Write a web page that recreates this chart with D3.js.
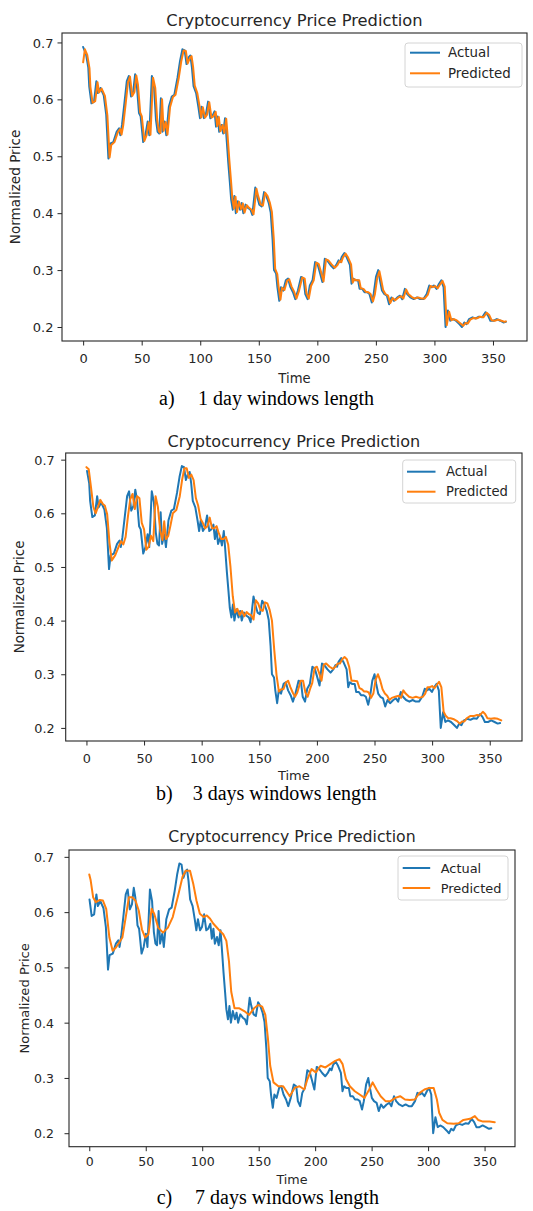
<!DOCTYPE html>
<html>
<head>
<meta charset="utf-8">
<script src="https://cdn.jsdelivr.net/npm/d3@7"></script>
<style>
  body { margin: 0; background: #fff; }
  svg { display: block; }
</style>
</head>
<body>
<svg id="fig" width="533" height="1211"></svg>
<script>
// ---- data -------------------------------------------------------------
// Normalized closing price over the test period, [day, price]
const actualPrice = [
  [0,0.692],[2.5,0.679],[4.4,0.656],[5.2,0.623],[7.1,0.593],[9.3,0.596],[11.3,0.632],[12.6,0.611],[14.8,0.62],[17.6,0.607],
  [19.7,0.573],[21.6,0.496],[23,0.522],[25.8,0.525],[28.6,0.543],[30.7,0.549],[31.8,0.537],[33.2,0.555],[35.4,0.596],[37.3,0.632],
  [39,0.641],[40.9,0.605],[42.8,0.614],[44.4,0.644],[45.8,0.626],[47.7,0.576],[49.1,0.57],[51.3,0.525],[53.2,0.537],[55.1,0.561],
  [56.5,0.537],[58.7,0.641],[60.6,0.62],[62.2,0.564],[63.6,0.543],[65,0.54],[66.4,0.602],[67.7,0.543],[69.6,0.561],[71,0.537],
  [73.2,0.587],[75.7,0.605],[77.9,0.608],[80.6,0.638],[82.8,0.668],[84.8,0.688],[86.7,0.686],[88.3,0.662],[90.2,0.674],[91.6,0.677],
  [92.9,0.656],[94.3,0.623],[96.5,0.611],[98.4,0.587],[99.8,0.567],[101.2,0.587],[103.1,0.567],[104.8,0.573],[106.7,0.596],[108.6,0.567],
  [110.3,0.57],[112.2,0.579],[113.5,0.552],[114.9,0.57],[116.2,0.543],[118.1,0.555],[119.6,0.54],[121.2,0.567],[122.3,0.537],[123.9,0.49],
  [125.3,0.454],[126.4,0.424],[127.8,0.406],[129.1,0.43],[130.4,0.4],[132.1,0.421],[134,0.406],[135.4,0.418],[136.8,0.4],[138.7,0.415],
  [140.9,0.409],[142.9,0.406],[144.5,0.397],[147,0.445],[148.5,0.43],[150.5,0.415],[152.5,0.412],[154.5,0.437],[156.5,0.43],[158.5,0.418],
  [160.2,0.401],[161.8,0.353],[163,0.3],[164.8,0.294],[165.9,0.27],[167.5,0.246],[168.9,0.27],[170.9,0.264],[173.1,0.282],[175,0.285],
  [177,0.27],[179.2,0.261],[181.2,0.249],[183.4,0.264],[186.1,0.288],[188.2,0.285],[189.7,0.258],[191.7,0.249],[193.6,0.273],[195.9,0.282],
  [198.1,0.314],[200.1,0.311],[202,0.297],[204.3,0.279],[206.4,0.32],[208.4,0.317],[211.2,0.309],[213.9,0.303],[216.2,0.309],[218.1,0.317],
  [219.5,0.314],[220.8,0.323],[223.1,0.33],[225,0.323],[227.8,0.309],[229.2,0.276],[230.6,0.285],[232.5,0.282],[234.8,0.282],[236.1,0.267],
  [238.4,0.267],[240.3,0.261],[242.6,0.261],[244.5,0.258],[246.5,0.243],[248.1,0.258],[250.1,0.288],[252,0.3],[253.5,0.282],[255.2,0.264],
  [257.1,0.258],[259.4,0.255],[261.3,0.24],[263.3,0.252],[265.5,0.246],[268.3,0.252],[270.6,0.255],[272.5,0.249],[274.8,0.267],[276.7,0.258],
  [279.4,0.252],[282.3,0.249],[285.1,0.252],[287.8,0.249],[290.6,0.249],[293.4,0.258],[295.6,0.273],[297.6,0.27],[299.5,0.273],[301.8,0.267],
  [303.9,0.276],[305.9,0.282],[307.8,0.27],[309.5,0.2],[311.5,0.229],[313.5,0.211],[315.7,0.214],[318.4,0.211],[321.3,0.205],[323.5,0.2],
  [325.5,0.208],[327.4,0.205],[329.6,0.214],[332.5,0.217],[335.2,0.215],[338,0.218],[340.8,0.217],[343.6,0.226],[345.8,0.22],[347.8,0.211],
  [350.5,0.211],[353.3,0.214],[356.2,0.211],[358.9,0.208],[361,0.209]
];

// Model output with a 1-day input window
const predicted1Day = [
  [0,0.665],[1.5,0.688],[3.5,0.678],[5.4,0.655],[6.2,0.622],[8.1,0.594],[10.3,0.597],[12.3,0.63],[13.6,0.612],[15.8,0.619],
  [18.6,0.606],[20.7,0.572],[22.6,0.498],[24,0.52],[26.8,0.525],[29.6,0.542],[31.7,0.548],[32.8,0.538],[34.2,0.554],[36.4,0.594],
  [38.3,0.63],[40,0.64],[41.9,0.606],[43.8,0.613],[45.4,0.642],[46.8,0.626],[48.7,0.577],[50.1,0.57],[52.3,0.527],[54.2,0.537],
  [56.1,0.56],[57.5,0.538],[59.7,0.638],[61.6,0.62],[63.2,0.565],[64.6,0.544],[66,0.541],[67.4,0.6],[68.7,0.545],[70.6,0.56],
  [72,0.538],[74.2,0.586],[76.7,0.604],[78.9,0.608],[81.6,0.637],[83.8,0.667],[85.8,0.686],[87.7,0.685],[89.3,0.663],[91.2,0.673],
  [92.6,0.676],[93.9,0.657],[95.3,0.624],[97.5,0.611],[99.4,0.588],[100.8,0.568],[102.2,0.586],[104.1,0.568],[105.8,0.573],[107.7,0.595],
  [109.6,0.568],[111.3,0.57],[113.2,0.578],[114.5,0.553],[115.9,0.569],[117.2,0.544],[119.1,0.555],[120.6,0.541],[122.2,0.566],[123.3,0.538],
  [124.9,0.492],[126.3,0.456],[127.4,0.426],[128.8,0.408],[130.1,0.429],[131.4,0.402],[133.1,0.42],[135,0.407],[136.4,0.417],[137.8,0.401],
  [139.7,0.414],[141.9,0.409],[143.9,0.406],[145.5,0.398],[148,0.443],[149.5,0.43],[151.5,0.416],[153.5,0.413],[155.5,0.436],[157.5,0.43],
  [159.5,0.418],[161.2,0.402],[162.8,0.355],[164,0.302],[165.8,0.293],[166.9,0.271],[168.5,0.248],[169.9,0.269],[171.9,0.265],[174.1,0.281],
  [176,0.284],[178,0.271],[180.2,0.262],[182.2,0.25],[184.4,0.264],[187.1,0.287],[189.2,0.285],[190.7,0.259],[192.7,0.25],[194.6,0.272],
  [196.9,0.282],[199.1,0.313],[201.1,0.311],[203,0.298],[205.3,0.28],[207.4,0.319],[209.4,0.317],[212.2,0.31],[214.9,0.304],[217.2,0.309],
  [219.1,0.316],[220.5,0.314],[221.8,0.322],[224.1,0.329],[226,0.323],[228.8,0.31],[230.2,0.278],[231.6,0.284],[233.5,0.282],[235.8,0.282],
  [237.1,0.268],[239.4,0.267],[241.3,0.262],[243.6,0.261],[245.5,0.258],[247.5,0.245],[249.1,0.257],[251.1,0.286],[253,0.298],[254.5,0.283],
  [256.2,0.265],[258.1,0.258],[260.4,0.255],[262.3,0.242],[264.3,0.251],[266.5,0.247],[269.3,0.252],[271.6,0.254],[273.5,0.25],[275.8,0.266],
  [277.7,0.258],[280.4,0.253],[283.3,0.25],[286.1,0.252],[288.8,0.25],[291.6,0.25],[294.4,0.257],[296.6,0.272],[298.6,0.27],[300.5,0.272],
  [302.8,0.268],[304.9,0.275],[306.9,0.281],[308.8,0.271],[310.5,0.203],[312.5,0.227],[314.5,0.212],[316.7,0.214],[319.4,0.211],[322.3,0.206],
  [324.5,0.202],[326.5,0.207],[328.4,0.206],[330.6,0.213],[333.5,0.216],[336.2,0.215],[339,0.218],[341.8,0.217],[344.6,0.225],[346.8,0.221],
  [348.8,0.212],[351.5,0.211],[354.3,0.213],[357.2,0.211],[359.9,0.209],[361,0.21]
];

// Model output with a 3-day input window
const predicted3Day = [
  [0,0.686],[2,0.682],[4,0.648],[6,0.612],[8,0.6],[10,0.612],[12,0.625],[14,0.618],[16,0.614],[18,0.598],
  [20,0.545],[22,0.512],[25,0.522],[28,0.538],[30,0.548],[32,0.542],[34,0.556],[36,0.594],[38,0.626],[40,0.636],
  [42,0.608],[44,0.632],[46,0.628],[48,0.582],[50,0.57],[52,0.532],[54,0.538],[56,0.558],[58,0.548],[60,0.632],
  [62,0.612],[64,0.568],[66,0.55],[67.5,0.585],[69,0.552],[71,0.558],[73,0.578],[75,0.6],[78,0.606],[81,0.632],
  [83,0.662],[85,0.684],[87,0.684],[89,0.666],[91,0.672],[93,0.662],[95,0.628],[97,0.614],[99,0.59],[101,0.582],
  [103,0.572],[105,0.576],[107,0.592],[109,0.572],[111,0.572],[113,0.576],[115,0.562],[117,0.552],[119,0.552],[121,0.556],
  [123,0.542],[125,0.5],[127,0.445],[129,0.415],[131,0.422],[133,0.41],[135,0.418],[137,0.408],[139,0.416],[141,0.412],
  [143,0.41],[145,0.402],[147,0.438],[149,0.432],[151,0.42],[153,0.418],[155,0.434],[157,0.432],[159,0.42],[161,0.4],
  [163,0.345],[165,0.298],[167,0.268],[169,0.272],[171,0.272],[173,0.284],[175,0.288],[177,0.276],[179,0.266],[181,0.258],
  [183,0.266],[186,0.288],[188,0.288],[190,0.266],[192,0.258],[194,0.272],[196,0.284],[198,0.312],[200,0.314],[202,0.302],
  [204,0.288],[206,0.318],[208,0.32],[211,0.314],[214,0.31],[216,0.314],[218,0.32],[220,0.32],[222,0.328],[224,0.332],
  [226,0.328],[228,0.314],[230,0.288],[232,0.288],[235,0.287],[237,0.274],[239,0.272],[241,0.268],[243,0.268],[245,0.266],
  [247,0.256],[249,0.264],[251,0.29],[253,0.3],[255,0.288],[257,0.272],[259,0.264],[261,0.26],[263,0.252],[265,0.256],
  [268,0.258],[271,0.26],[273,0.256],[275,0.27],[277,0.264],[280,0.258],[283,0.256],[286,0.258],[289,0.256],[292,0.258],
  [294,0.264],[296,0.276],[298,0.276],[300,0.278],[302,0.274],[304,0.28],[306,0.286],[308,0.276],[310,0.23],[312,0.222],
  [314,0.218],[316,0.218],[319,0.216],[322,0.212],[324,0.208],[326,0.212],[328,0.212],[330,0.218],[333,0.222],[336,0.222],
  [339,0.224],[341,0.223],[344,0.23],[346,0.226],[348,0.218],[351,0.217],[354,0.218],[357,0.217],[360,0.214]
];

// Model output with a 7-day input window
const predicted7Day = [
  [0,0.668],[1.2,0.658],[3.4,0.627],[5.8,0.618],[9.3,0.622],[12.1,0.621],[15,0.606],[17.8,0.554],[20.7,0.53],[23.6,0.536],
  [26.5,0.545],[29.3,0.554],[32.3,0.591],[35.1,0.627],[37.9,0.627],[40.9,0.621],[43.8,0.603],[46.6,0.569],[49.5,0.554],[52.4,0.56],
  [55.2,0.606],[57.5,0.597],[61,0.572],[65.3,0.563],[69.6,0.572],[73.9,0.591],[78.3,0.627],[82.6,0.664],[85.4,0.675],[89.2,0.675],
  [92,0.652],[94.9,0.621],[97.9,0.597],[101.3,0.591],[104.1,0.594],[107,0.588],[109.9,0.579],[114.3,0.569],[118.6,0.56],[121.4,0.548],
  [123.7,0.511],[125.7,0.456],[128.6,0.426],[132.9,0.426],[137.2,0.421],[141.5,0.414],[145.9,0.426],[149.6,0.432],[153.1,0.429],[155.9,0.414],
  [158.2,0.371],[160.2,0.322],[163.1,0.292],[167.4,0.285],[171.7,0.285],[177.5,0.267],[181.8,0.282],[186.1,0.285],[190.4,0.279],[193.2,0.298],
  [196.8,0.316],[200.6,0.31],[204.8,0.322],[209.1,0.319],[213.4,0.325],[217.8,0.331],[221.5,0.334],[224.3,0.325],[227.3,0.298],[230.7,0.285],
  [235.1,0.276],[239.4,0.27],[243.7,0.264],[247.9,0.279],[250.9,0.292],[254.3,0.279],[258,0.267],[262.3,0.258],[266.7,0.258],[271,0.264],
  [275.2,0.267],[279.5,0.261],[283.9,0.26],[288.2,0.261],[292.5,0.273],[296.8,0.279],[301.1,0.282],[304.9,0.282],[307.8,0.261],[309.8,0.237],
  [312.7,0.224],[317,0.218],[322.7,0.217],[327,0.218],[331.3,0.224],[337.2,0.226],[341.4,0.231],[344.3,0.224],[348.6,0.221],[354.4,0.221],
  [359,0.22]
];

const windowLabels = ["a)", "b)", "c)"];
const windowTexts = ["1 day windows length", "3 days windows length", "7 days windows length"];
// Longer windows start the test period a few days later
const testStartOffsets = [0, 2, 5];
const predictedSeries = [predicted1Day, predicted3Day, predicted7Day];
const xTickValues = [0, 50, 100, 150, 200, 250, 300, 350];
const yTickValues = [0.2, 0.3, 0.4, 0.5, 0.6, 0.7];
const seriesNames = ["Actual", "Predicted"];
const seriesColors = ["#1f77b4", "#ff7f0e"];
const chartTitle = "Cryptocurrency Price Prediction";
const xAxisLabel = "Time";
const yAxisLabel = "Normalized Price";

// ---- layout of the three stacked panels ------------------------------
const panels = [
  { left: 62, top: 33, right: 527, bottom: 341, fs: 1.0, titleY: 20, tickPad: 4, xTickY: 358, xLabelY: 378,
    yLabelX: 15, captionY: 405, capLabelX: 159, capTextX: 198,
    legend: { x: 405, y: 43, w: 117, h: 44, row1: 52.7, row2: 73.3, lineX: 410, lineLen: 30, textX: 448 } },
  { left: 65.7, top: 453, right: 522, bottom: 741, fs: 0.985, titleY: 441.7, tickPad: 6.5, xTickY: 758.3, xLabelY: 775,
    yLabelX: 19, captionY: 800, capLabelX: 156, capTextX: 192.7,
    legend: { x: 402.7, y: 460, w: 113, h: 43, row1: 471.7, row2: 491.7, lineX: 407, lineLen: 28.5, textX: 446 } },
  { left: 69, top: 850, right: 515, bottom: 1146.7, fs: 0.965, titleY: 836.7, tickPad: 10.5, xTickY: 1161.7, xLabelY: 1180,
    yLabelX: 24, captionY: 1204, capLabelX: 156.7, capTextX: 195,
    legend: { x: 398, y: 856, w: 110, h: 44, row1: 868, row2: 888, lineX: 402.7, lineLen: 27.5, textX: 440.7 } }
];

const svg = d3.select("#fig");
const sansFont = "'DejaVu Sans', sans-serif";
const serifFont = "'Liberation Serif', 'Times New Roman', serif";
const ink = "#262626";

panels.forEach((p, i) => {
  const offset = testStartOffsets[i];
  const actual = actualPrice
    .filter(d => d[0] >= offset)
    .map(d => [d[0] - offset, d[1]]);
  const predicted = predictedSeries[i];
  const series = [actual, predicted];

  // matplotlib-style autoscale: data extent plus 5% margin
  const allPts = actual.concat(predicted);
  const [x0, x1] = d3.extent(allPts, d => d[0]);
  const [y0, y1] = d3.extent(allPts, d => d[1]);
  const xm = (x1 - x0) * 0.05, ym = (y1 - y0) * 0.05;

  const x = d3.scaleLinear().domain([x0 - xm, x1 + xm]).range([p.left, p.right]);
  const y = d3.scaleLinear().domain([y0 - ym, y1 + ym]).range([p.bottom, p.top]);

  const g = svg.append("g");
  const clipId = "clip" + i;
  g.append("clipPath").attr("id", clipId)
    .append("rect")
    .attr("x", p.left).attr("y", p.top)
    .attr("width", p.right - p.left).attr("height", p.bottom - p.top);

  const line = d3.line().x(d => x(d[0])).y(d => y(d[1]));

  g.append("g").attr("clip-path", `url(#${clipId})`)
    .selectAll("path")
    .data(series)
    .join("path")
    .attr("d", line)
    .attr("fill", "none")
    .attr("stroke", (d, k) => seriesColors[k])
    .attr("stroke-width", 2)
    .attr("stroke-linejoin", "round")
    .attr("stroke-linecap", "round");

  // axes
  const tickFs = 13 * p.fs;
  const yAxis = d3.axisLeft(y).tickValues(yTickValues).tickFormat(d3.format(".1f"))
    .tickSize(4.5).tickPadding(p.tickPad);
  const xAxis = d3.axisBottom(x).tickValues(xTickValues).tickFormat(d3.format("d"))
    .tickSize(4.5);

  const ya = g.append("g").attr("transform", `translate(${p.left},0)`).call(yAxis);
  const xa = g.append("g").attr("transform", `translate(0,${p.bottom})`).call(xAxis);
  [ya, xa].forEach(a => {
    a.select(".domain").remove();
    a.selectAll(".tick line").attr("stroke", ink).attr("stroke-width", 1);
    a.selectAll(".tick text").attr("fill", ink).style("font-family", sansFont).style("font-size", tickFs + "px");
  });
  ya.selectAll(".tick text").attr("dy", "0.35em");
  xa.selectAll(".tick text").attr("y", p.xTickY - p.bottom).attr("dy", "0.35em");

  // frame
  g.append("rect")
    .attr("x", p.left).attr("y", p.top)
    .attr("width", p.right - p.left).attr("height", p.bottom - p.top)
    .attr("fill", "none").attr("stroke", ink).attr("stroke-width", 1.1);

  // title and axis labels
  g.append("text")
    .attr("x", (p.left + p.right) / 2).attr("y", p.titleY).attr("dy", "0.35em")
    .attr("text-anchor", "middle").attr("fill", ink)
    .style("font-family", sansFont).style("font-size", (16.3 * p.fs) + "px")
    .text(chartTitle);

  g.append("text")
    .attr("x", (p.left + p.right) / 2).attr("y", p.xLabelY).attr("dy", "0.35em")
    .attr("text-anchor", "middle").attr("fill", ink)
    .style("font-family", sansFont).style("font-size", (13.2 * p.fs) + "px")
    .text(xAxisLabel);

  g.append("text")
    .attr("transform", `translate(${p.yLabelX},${(p.top + p.bottom) / 2}) rotate(-90)`)
    .attr("dy", "0.35em")
    .attr("text-anchor", "middle").attr("fill", ink)
    .style("font-family", sansFont).style("font-size", (13.6 * p.fs) + "px")
    .text(yAxisLabel);

  // legend
  const L = p.legend;
  const lg = g.append("g");
  lg.append("rect")
    .attr("x", L.x).attr("y", L.y).attr("width", L.w).attr("height", L.h)
    .attr("rx", 3).attr("fill", "#fff").attr("fill-opacity", 0.85)
    .attr("stroke", "#d4d4d4").attr("stroke-width", 1);
  const rows = [L.row1, L.row2];
  seriesNames.forEach((name, k) => {
    lg.append("line")
      .attr("x1", L.lineX).attr("x2", L.lineX + L.lineLen)
      .attr("y1", rows[k]).attr("y2", rows[k])
      .attr("stroke", seriesColors[k]).attr("stroke-width", 2);
    lg.append("text")
      .attr("x", L.textX).attr("y", rows[k]).attr("dy", "0.35em")
      .attr("fill", ink)
      .style("font-family", sansFont).style("font-size", (13.4 * p.fs) + "px")
      .text(name);
  });

  // caption under the panel
  const cap = svg.append("g")
    .style("font-family", serifFont).style("font-size", "20px").attr("fill", "#000");
  cap.append("text").attr("x", p.capLabelX).attr("y", p.captionY).text(windowLabels[i]);
  cap.append("text").attr("x", p.capTextX).attr("y", p.captionY).text(windowTexts[i]);
});
</script>
</body>
</html>
